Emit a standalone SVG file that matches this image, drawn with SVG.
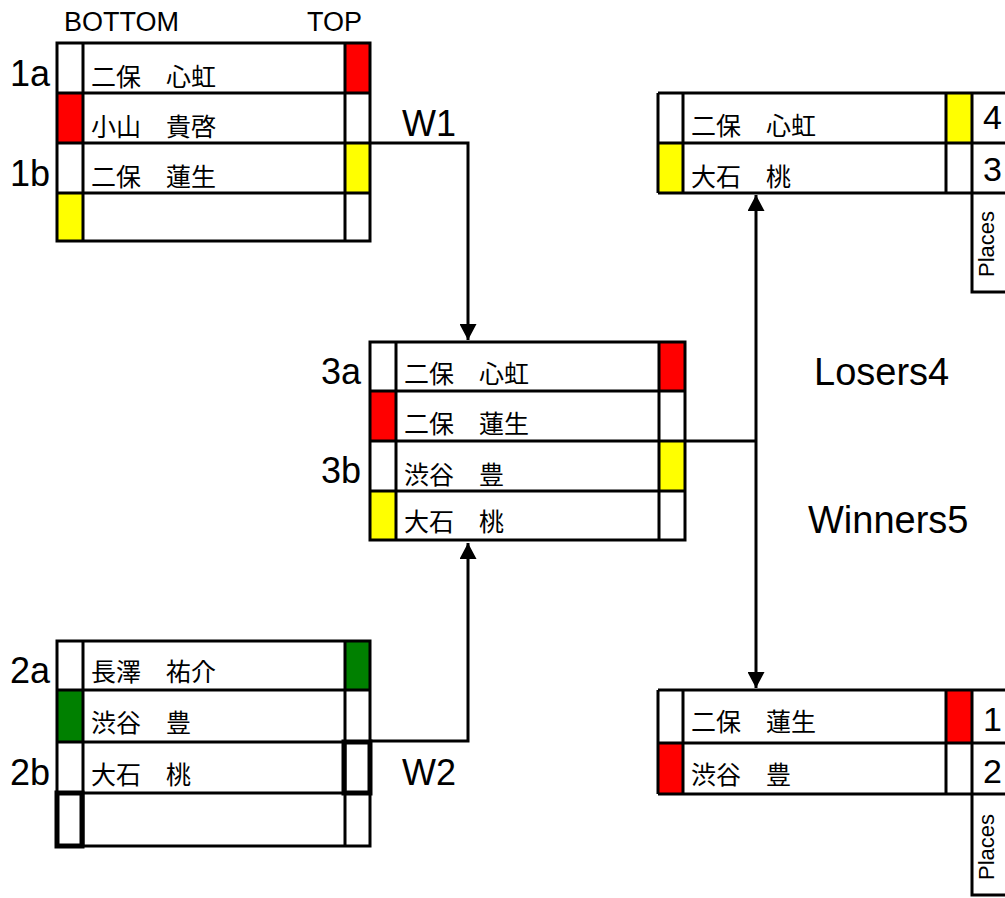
<svg xmlns="http://www.w3.org/2000/svg" width="1005" height="898" viewBox="0 0 1005 898">
<style>
.bg{fill:#fff}
.grid{fill:none;stroke:#000;stroke-width:3}
.red{fill:#ff0000}
.yel{fill:#ffff00}
.grn{fill:#008000}
.thick{fill:none;stroke:#000;stroke-width:5}
.name{font-family:"Noto Sans CJK JP","Noto Sans CJK SC",sans-serif;font-size:25px;fill:#000}
.lab{font-family:"Liberation Sans",Arial,sans-serif;fill:#000}
.seed{font-size:36px}
.head{font-size:27px}
.big{font-size:38px}
.num{font-size:34px}
.pl{font-size:22px}
.conn{fill:none;stroke:#000;stroke-width:3}
</style>
<defs>
<marker id="arr" markerUnits="userSpaceOnUse" markerWidth="17" markerHeight="17" refX="16" refY="8.5" orient="auto">
<path d="M0,0 L16,8.5 L0,17 Z" fill="#000"/>
</marker>
<marker id="arrs" markerUnits="userSpaceOnUse" markerWidth="17" markerHeight="17" refX="0" refY="8.5" orient="auto">
<path d="M16,0 L0,8.5 L16,17 Z" fill="#000"/>
</marker>
</defs>
<rect class="bg" x="0" y="0" width="1005" height="898"/>

<g id="headers">
<text class="lab head" x="64" y="31">BOTTOM</text>
<text class="lab head" x="307" y="31">TOP</text>
</g>

<g id="box1">
<rect class="red" x="345" y="43" width="25" height="50"/>
<rect class="red" x="57" y="93" width="26" height="50"/>
<rect class="yel" x="345" y="143" width="25" height="50"/>
<rect class="yel" x="57" y="193" width="26" height="48"/>
<rect class="grid" x="57" y="43" width="313" height="198"/>
<path class="grid" d="M57,93H370M57,143H370M57,193H370M83,43V241M345,43V241"/>
<text class="name" x="91" y="86">二保　心虹</text>
<text class="name" x="91" y="136">小山　貴啓</text>
<text class="name" x="91" y="186">二保　蓮生</text>
<text class="lab seed" x="10" y="86">1a</text>
<text class="lab seed" x="10" y="186">1b</text>
</g>

<g id="box2">
<rect class="grn" x="345" y="641" width="25" height="49"/>
<rect class="grn" x="57" y="690" width="26" height="52"/>
<rect class="grid" x="57" y="641" width="313" height="205"/>
<path class="grid" d="M57,690H370M57,742H370M57,793H370M83,641V846M345,641V846"/>
<rect class="thick" x="344" y="742" width="26" height="51"/>
<rect class="thick" x="57" y="793" width="25" height="53"/>
<text class="name" x="91" y="681">長澤　祐介</text>
<text class="name" x="91" y="732">渋谷　豊</text>
<text class="name" x="91" y="784">大石　桃</text>
<text class="lab seed" x="10" y="683">2a</text>
<text class="lab seed" x="10" y="785">2b</text>
</g>

<g id="box3">
<rect class="red" x="659" y="342" width="26" height="49"/>
<rect class="red" x="370" y="391" width="26" height="50"/>
<rect class="yel" x="659" y="441" width="26" height="50"/>
<rect class="yel" x="370" y="491" width="26" height="49"/>
<rect class="grid" x="370" y="342" width="315" height="198"/>
<path class="grid" d="M370,391H685M370,441H685M370,491H685M396,342V540M659,342V540"/>
<text class="name" x="404" y="383">二保　心虹</text>
<text class="name" x="404" y="433">二保　蓮生</text>
<text class="name" x="404" y="484">渋谷　豊</text>
<text class="name" x="404" y="531">大石　桃</text>
<text class="lab seed" x="321" y="384">3a</text>
<text class="lab seed" x="321" y="483">3b</text>
</g>

<g id="box4">
<rect class="yel" x="946" y="93" width="26" height="50"/>
<rect class="yel" x="658" y="143" width="25" height="50"/>
<path class="grid" d="M658,93H1010M658,143H1010M658,193H1010M658,93V193M683,93V193M946,93V193M972,93V292H1010"/>
<text class="name" x="691" y="135">二保　心虹</text>
<text class="name" x="691" y="186">大石　桃</text>
<text class="lab num" x="983" y="129">4</text>
<text class="lab num" x="983" y="181">3</text>
<text class="lab pl" transform="translate(994,277) rotate(-90)">Places</text>
</g>

<g id="box5">
<rect class="red" x="946" y="690" width="26" height="53"/>
<rect class="red" x="658" y="743" width="25" height="51"/>
<path class="grid" d="M658,690H1010M658,743H1010M658,794H1010M658,690V794M683,690V794M946,690V794M972,690V895H1010"/>
<text class="name" x="691" y="731">二保　蓮生</text>
<text class="name" x="691" y="784">渋谷　豊</text>
<text class="lab num" x="983" y="731">1</text>
<text class="lab num" x="983" y="783">2</text>
<text class="lab pl" transform="translate(994,880) rotate(-90)">Places</text>
</g>

<g id="connectors">
<path class="conn" d="M370,143H468V340" marker-end="url(#arr)"/>
<path class="conn" d="M370,741H468V543" marker-end="url(#arr)"/>
<path class="conn" d="M685,441H756"/>
<path class="conn" d="M756,195V688" marker-start="url(#arrs)" marker-end="url(#arr)"/>
<text class="lab seed" x="402" y="136">W1</text>
<text class="lab seed" x="402" y="785">W2</text>
<text class="lab big" x="814" y="385">Losers4</text>
<text class="lab big" x="808" y="533">Winners5</text>
</g>
</svg>
